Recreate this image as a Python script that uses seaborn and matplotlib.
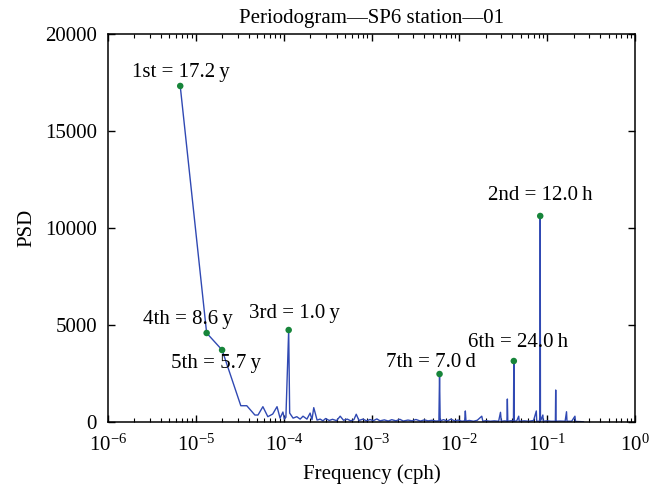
import seaborn as sns
import matplotlib.pyplot as plt
import pandas as pd

# Periodogram values (frequency in cph, PSD)
freq = [6.64e-6, 1.327e-5, 1.99e-5, 3.25e-5, 3.8e-5, 4.7e-5, 5.1e-5, 5.8e-5,
        6.6e-5, 7.5e-5, 8.4e-5, 9.1e-5, 9.8e-5, 1.02e-4, 1.06e-4, 1.14e-4,
        1.17e-4, 1.28e-4, 1.41e-4, 1.54e-4, 1.66e-4, 1.84e-4, 2.0e-4, 2.1e-4,
        2.2e-4, 2.4e-4, 2.6e-4, 2.8e-4, 3.0e-4, 3.3e-4, 3.6e-4, 4.0e-4,
        4.4e-4, 4.8e-4, 5.3e-4, 5.8e-4, 6.3e-4, 6.7e-4, 7.2e-4, 8.0e-4,
        8.8e-4, 9.6e-4, 1.05e-3, 1.15e-3, 1.25e-3, 1.4e-3, 1.55e-3, 1.7e-3,
        1.9e-3, 2.1e-3, 2.3e-3, 2.6e-3, 2.9e-3, 3.2e-3, 3.6e-3, 4.0e-3,
        4.4e-3, 4.9e-3, 5.4e-3, 5.85e-3, 5.95e-3, 6.05e-3, 6.6e-3, 7.3e-3,
        8.0e-3, 8.8e-3, 9.7e-3, 1.07e-2, 1.15e-2, 1.17e-2, 1.19e-2, 1.3e-2,
        1.45e-2, 1.6e-2, 1.8e-2, 1.85e-2, 2.0e-2, 2.25e-2, 2.5e-2, 2.8e-2,
        2.94e-2, 3.0e-2, 3.3e-2, 3.48e-2, 3.52e-2, 3.56e-2, 3.9e-2, 4.13e-2,
        4.17e-2, 4.21e-2, 4.5e-2, 4.74e-2, 4.8e-2, 5.5e-2, 6.2e-2, 7.0e-2,
        7.52e-2, 7.6e-2, 8.28e-2, 8.33e-2, 8.38e-2, 8.93e-2, 9.0e-2, 1.0e-1,
        1.1e-1, 1.24e-1, 1.25e-1, 1.26e-1, 1.4e-1, 1.6e-1, 1.66e-1, 1.68e-1,
        1.9e-1, 2.07e-1, 2.1e-1, 2.4e-1, 2.6e-1]
psd = [17320, 4588, 3711, 840, 840, 360, 360, 790,
       275, 410, 790, 200, 515, 150, 250, 4742,
       460, 200, 275, 150, 300, 150, 460, 120,
       740, 100, 150, 60, 180, 80, 140, 70,
       300, 90, 150, 60, 120, 400, 80, 150,
       60, 130, 70, 160, 60, 110, 50, 120,
       60, 140, 50, 100, 60, 130, 50, 110,
       60, 90, 50, 60, 2474, 60, 120, 50,
       150, 60, 100, 40, 60, 570, 50, 80,
       40, 90, 300, 40, 70, 40, 60, 40,
       500, 40, 60, 40, 1185, 40, 70, 40,
       3144, 40, 60, 300, 40, 60, 40, 80,
       570, 40, 40, 10619, 40, 360, 40, 60,
       40, 40, 1650, 40, 50, 40, 530, 40,
       40, 300, 30, 20, 10]

# Marked peaks
peak_freq = [6.64e-6, 8.33e-2, 1.14e-4, 1.327e-5, 1.99e-5, 4.17e-2, 5.95e-3]
peak_psd = [17320, 10619, 4742, 4588, 3711, 3144, 2474]
peak_labels = ["1st = 17.2\u2009y", "2nd = 12.0\u2009h", "3rd = 1.0\u2009y",
               "4th = 8.6\u2009y", "5th = 5.7\u2009y", "6th = 24.0\u2009h",
               "7th = 7.0\u2009d"]
# label offsets (points) from each dot to the label centre
offsets = [(0.7, 9.4), (0, 15), (4.3, 12.2), (-13.7, 10), (-4.3, -9.4),
           (3.2, 13), (-6.5, 8)]

df = pd.DataFrame({"freq": freq, "psd": psd})
peaks = pd.DataFrame({"freq": peak_freq, "psd": peak_psd})

sns.set_style("ticks")
plt.rcParams["font.family"] = ["Liberation Serif", "DejaVu Serif"]
plt.rcParams["mathtext.fontset"] = "stix"
plt.rcParams["text.color"] = "black"
plt.rcParams["axes.labelcolor"] = "black"

fig = plt.figure(figsize=(6.61, 4.91), dpi=100)
ax = fig.add_axes([0.1634, 0.1405, 0.7973, 0.7903])

sns.lineplot(data=df, x="freq", y="psd", ax=ax, color="#3049b3",
             linewidth=1.0, estimator=None, sort=False)
sns.scatterplot(data=peaks, x="freq", y="psd", ax=ax, color="#17853a",
                s=22, edgecolor="none", zorder=5)

for f, p, lab, off in zip(peak_freq, peak_psd, peak_labels, offsets):
    ax.annotate(lab, (f, p), xytext=off, textcoords="offset points",
                ha="center", va="center", fontsize=15, color="black")

ax.set_xscale("log")
ax.set_xlim(1e-6, 1)
ax.set_ylim(0, 20000)
ax.set_yticks([0, 5000, 10000, 15000, 20000])
ax.minorticks_off()
ax.xaxis.set_minor_locator(plt.matplotlib.ticker.LogLocator(base=10, subs=range(2, 10), numticks=20))
ax.tick_params(which="both", direction="in", top=True, right=True,
               labelsize=15, colors="black")
ax.tick_params(which="major", length=5, width=1)
ax.tick_params(which="minor", length=3, width=0.8)
ax.tick_params(axis="x", pad=9)
ax.tick_params(axis="y", pad=8)
for s in ax.spines.values():
    s.set_color("black")
    s.set_linewidth(1.1)

ax.set_xlabel("Frequency (cph)", fontsize=15, labelpad=6)
ax.set_ylabel("PSD", fontsize=15, labelpad=6)
ax.set_title("Periodogram\u2014SP6 station\u201401", fontsize=15, pad=8,
             color="black")

fig.savefig("out.png", dpi=100)
